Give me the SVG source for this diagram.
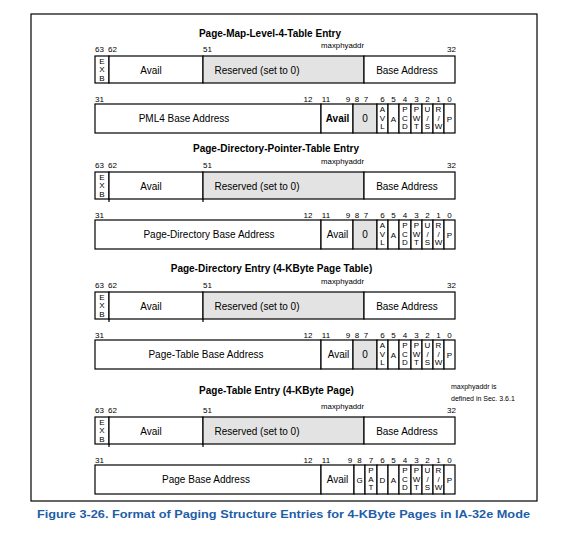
<svg xmlns="http://www.w3.org/2000/svg" width="566" height="542" viewBox="0 0 566 542">
<style>
.bx{fill:#fff;stroke:#000;stroke-width:1.2}
.gy{fill:#e3e3e3;stroke:#000;stroke-width:1.2}
.ln{stroke:#000;stroke-width:1.2;fill:none}
text{font-family:"Liberation Sans",Arial,sans-serif;fill:#000}
.t{font-size:10px;text-anchor:middle}
.tb{font-size:10px;text-anchor:middle;font-weight:bold}
.ttl{font-size:10px;font-weight:bold;text-anchor:middle}
.n{font-size:8px}
.nc{font-size:8px;text-anchor:middle}
.ne{font-size:8px;text-anchor:end}
.m{font-size:7.8px;text-anchor:end}
.s{font-size:8px;text-anchor:middle}
.note{font-size:7px}
.cap{font-size:11.5px;font-weight:bold;fill:#1e5ea8}
</style>
<defs>
<g id="upper">
<text class="n" x="95" y="-4">63</text>
<text class="n" x="108" y="-4">62</text>
<text class="n" x="203" y="-4">51</text>
<text class="m" x="364" y="-8">maxphyaddr</text>
<text class="ne" x="456" y="-4">32</text>
<rect class="bx" x="95" y="0" width="14" height="27"/>
<rect class="bx" x="109" y="0" width="94" height="27"/>
<rect class="gy" x="203" y="0" width="161" height="27"/>
<rect class="bx" x="364" y="0" width="91" height="27"/>
<text class="s" x="102" y="7.5">E</text>
<text class="s" x="102" y="16">X</text>
<text class="s" x="102" y="24.5">B</text>
<text class="t" x="151" y="17.5">Avail</text>
<text class="t" x="257" y="17.5">Reserved (set to 0)</text>
<text class="t" x="407" y="17.5">Base Address</text>
</g>
<g id="lowlabels">
<text class="n" x="95" y="46">31</text>
<text class="nc" x="308" y="46">12</text>
<text class="nc" x="326" y="46">11</text>
<text class="nc" x="382.5" y="46">6</text>
<text class="nc" x="393.5" y="46">5</text>
<text class="nc" x="405" y="46">4</text>
<text class="nc" x="416.5" y="46">3</text>
<text class="nc" x="427.5" y="46">2</text>
<text class="nc" x="438.5" y="46">1</text>
<text class="nc" x="449.5" y="46">0</text>
</g>
<g id="flags">
<rect class="bx" x="388" y="48" width="11" height="29"/>
<rect class="bx" x="399" y="48" width="12" height="29"/>
<rect class="bx" x="411" y="48" width="11" height="29"/>
<rect class="bx" x="422" y="48" width="11" height="29"/>
<rect class="bx" x="433" y="48" width="11" height="29"/>
<rect class="bx" x="444" y="48" width="11" height="29"/>
<text class="s" x="393.5" y="65.5">A</text>
<text class="s" x="405" y="56">P</text><text class="s" x="405" y="64.5">C</text><text class="s" x="405" y="73">D</text>
<text class="s" x="416.5" y="56">P</text><text class="s" x="416.5" y="64.5">W</text><text class="s" x="416.5" y="73">T</text>
<text class="s" x="427.5" y="56">U</text><text class="s" x="427.5" y="64.5">/</text><text class="s" x="427.5" y="73">S</text>
<text class="s" x="438.5" y="56">R</text><text class="s" x="438.5" y="64.5">/</text><text class="s" x="438.5" y="73">W</text>
<text class="s" x="449.5" y="65.5">P</text>
</g>
<g id="avl">
<text class="nc" x="348" y="46">9</text>
<text class="nc" x="357" y="46">8</text>
<text class="nc" x="366" y="46">7</text>
<rect class="gy" x="353" y="48" width="24" height="29"/>
<text class="t" x="365" y="66.3">0</text>
<rect class="bx" x="377" y="48" width="11" height="29"/>
<text class="s" x="382.5" y="56">A</text><text class="s" x="382.5" y="64.5">V</text><text class="s" x="382.5" y="73">L</text>
</g>
<g id="ticks">
<line class="ln" x1="109" y1="27" x2="109" y2="30"/>
<line class="ln" x1="203" y1="27" x2="203" y2="30"/>
</g>
</defs>

<rect class="ln" x="31" y="14" width="506" height="487"/>

<g id="pml4e" transform="translate(0,56)">
<text class="ttl" x="270" y="-19">Page-Map-Level-4-Table Entry</text>
<use href="#upper"/>
<use href="#lowlabels"/>
<rect class="bx" x="95" y="48" width="226" height="29"/>
<rect class="bx" x="321" y="48" width="32" height="29"/>
<text class="t" x="184" y="66.3">PML4 Base Address</text>
<text class="tb" x="337.5" y="66.3">Avail</text>
<use href="#avl"/>
<use href="#flags"/>
</g>

<g id="pdpte" transform="translate(0,172)">
<text class="ttl" x="276" y="-20">Page-Directory-Pointer-Table Entry</text>
<use href="#upper"/>
<use href="#ticks"/>
<use href="#lowlabels"/>
<rect class="bx" x="95" y="48" width="226" height="29"/>
<rect class="bx" x="321" y="48" width="32" height="29"/>
<text class="t" x="209" y="66.3">Page-Directory Base Address</text>
<text class="t" x="337.5" y="66.3">Avail</text>
<use href="#avl"/>
<use href="#flags"/>
</g>

<g id="pde" transform="translate(0,292)">
<text class="ttl" x="271.5" y="-20">Page-Directory Entry (4-KByte Page Table)</text>
<use href="#upper"/>
<use href="#ticks"/>
<use href="#lowlabels"/>
<rect class="bx" x="95" y="48" width="226" height="29"/>
<rect class="bx" x="321" y="48" width="32" height="29"/>
<text class="t" x="206" y="66.3">Page-Table Base Address</text>
<text class="t" x="338.5" y="66.3">Avail</text>
<use href="#avl"/>
<use href="#flags"/>
</g>

<g id="pte" transform="translate(0,417)">
<text class="ttl" x="276.5" y="-23">Page-Table Entry (4-KByte Page)</text>
<use href="#upper"/>
<use href="#ticks"/>
<use href="#lowlabels"/>
<text class="nc" x="350" y="46">9</text>
<text class="nc" x="359.5" y="46">8</text>
<text class="nc" x="371" y="46">7</text>
<rect class="bx" x="95" y="48" width="226" height="29"/>
<rect class="bx" x="321" y="48" width="33" height="29"/>
<rect class="bx" x="354" y="48" width="11" height="29"/>
<rect class="bx" x="365" y="48" width="12" height="29"/>
<rect class="bx" x="377" y="48" width="11" height="29"/>
<text class="t" x="206" y="66.3">Page Base Address</text>
<text class="t" x="337.5" y="66.3">Avail</text>
<text class="s" x="359.5" y="65.5">G</text>
<text class="s" x="371" y="56">P</text><text class="s" x="371" y="64.5">A</text><text class="s" x="371" y="73">T</text>
<text class="s" x="382.5" y="65.5">D</text>
<use href="#flags"/>
</g>

<g id="note">
<text class="note" x="451" y="389">maxphyaddr is</text>
<text class="note" x="451" y="401">defined in Sec. 3.6.1</text>
</g>

<text class="cap" x="37" y="518" textLength="493" lengthAdjust="spacingAndGlyphs">Figure 3-26.  Format of Paging Structure Entries for 4-KByte Pages in IA-32e Mode</text>
</svg>
